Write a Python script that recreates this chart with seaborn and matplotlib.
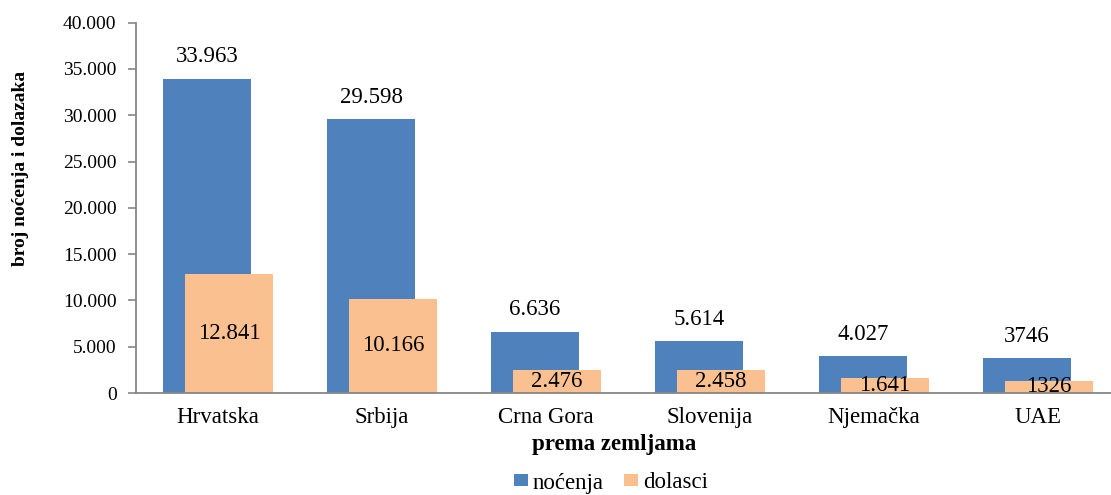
import numpy as np
import pandas as pd
import matplotlib
matplotlib.use("Agg")
import matplotlib.pyplot as plt
import seaborn as sns

# data
countries = ['Hrvatska', 'Srbija', 'Crna Gora', 'Slovenija', 'Njemačka', 'UAE']
nocenja = [33963, 29598, 6636, 5614, 4027, 3746]
dolasci = [12841, 10166, 2476, 2458, 1641, 1326]
nocenja_labels = ['33.963', '29.598', '6.636', '5.614', '4.027', '3746']
dolasci_labels = ['12.841', '10.166', '2.476', '2.458', '1.641', '1326']
y_ticks = [0, 5000, 10000, 15000, 20000, 25000, 30000, 35000, 40000]
y_tick_labels = ['0', '5.000', '10.000', '15.000', '20.000', '25.000', '30.000', '35.000', '40.000']

blue = '#4F81BD'
orange = '#FAC090'

df = pd.DataFrame({'zemlja': countries, 'nocenja': nocenja, 'dolasci': dolasci})
df['pos'] = np.arange(len(df))
shift = 0.067
df['pos_n'] = df['pos'] - shift
df['pos_d'] = df['pos'] + shift

sns.set_theme(style="white")
plt.rcParams['font.family'] = ['Liberation Serif', 'DejaVu Serif']
plt.rcParams['text.color'] = 'black'
plt.rcParams['axes.labelcolor'] = 'black'

fig = plt.figure(figsize=(11.11, 4.95), dpi=100)
# plot area is slightly wider than the image on the right, like the original
ax = fig.add_axes([136 / 1111, 102 / 495, 984 / 1111, 370.4 / 495])

sns.barplot(data=df, x='pos_n', y='nocenja', native_scale=True, width=0.537,
            color=blue, saturation=1, errorbar=None, ax=ax, label='noćenja',
            edgecolor='none', linewidth=0)
sns.barplot(data=df, x='pos_d', y='dolasci', native_scale=True, width=0.537,
            color=orange, saturation=1, errorbar=None, ax=ax, label='dolasci',
            edgecolor='none', linewidth=0)

# value labels
ax.bar_label(ax.containers[0], labels=nocenja_labels, padding=8, fontsize=16.5, color='black')
ax.bar_label(ax.containers[1], labels=dolasci_labels, label_type='center', fontsize=16.5,
             color='black')

ax.set_xlim(-0.5, len(countries) - 0.5)
ax.set_ylim(0, 40000)
ax.set_xticks(df['pos'])
ax.set_xticklabels(countries, fontsize=16.5)
ax.set_yticks(y_ticks)
ax.set_yticklabels(y_tick_labels, fontsize=14)
ax.tick_params(axis='x', length=0, pad=10, labelcolor='black')
ax.tick_params(axis='y', left=True, length=6, width=1.2, color='#868686', pad=8,
               labelcolor='black')

for side in ['top', 'right']:
    ax.spines[side].set_visible(False)
for side in ['left', 'bottom']:
    ax.spines[side].set_color('#868686')
    ax.spines[side].set_linewidth(1.3)

ax.set_xlabel('prema zemljama', fontsize=16.5, fontweight='bold')
ax.set_ylabel('broj noćenja i dolazaka', fontsize=14, fontweight='bold')
ax.xaxis.set_label_coords((614 - 136) / 984, -0.11)
ax.yaxis.set_label_coords((29 - 136) / 984, 0.607)

if ax.get_legend() is not None:
    ax.get_legend().remove()
handles, labels = ax.get_legend_handles_labels()
fig.legend(handles, labels, loc='center', bbox_to_anchor=(611 / 1111, 12 / 495),
           ncol=2, frameon=False, fontsize=16.5, handlelength=0.6, handleheight=0.45,
           handletextpad=0.2, columnspacing=0.9, borderpad=0)

fig.savefig('out.png', dpi=100)
